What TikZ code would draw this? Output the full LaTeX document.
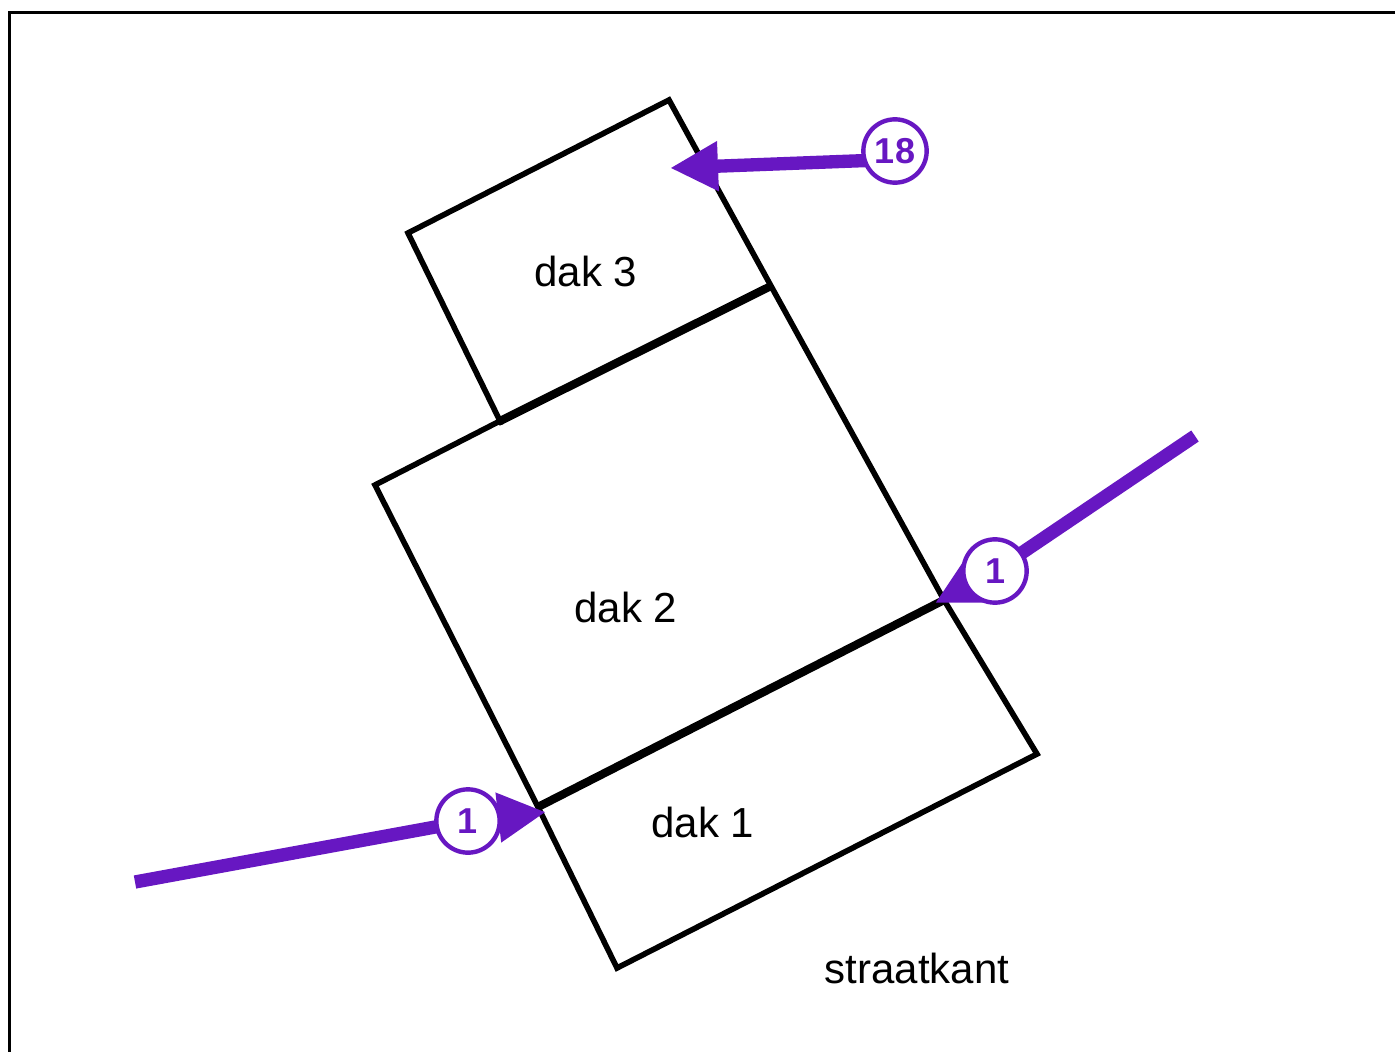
\documentclass[tikz,border=0pt]{standalone}
\usepackage{fontspec}
\setmainfont{Liberation Sans}
\usetikzlibrary{arrows.meta}
\definecolor{paars}{RGB}{103,23,194}

\tikzset{every picture/.style={line width=0.75pt}}
\tikzset{
  rand/.style={line width=4.2pt},
  nok/.style={line width=6.2pt},
  pijl/.style={draw=paars,line width=10pt,-{Triangle[length=36pt,width=35pt]}},
  lijn/.style={draw=paars,line width=10pt},
  badge/.style={circle,draw=paars,fill=white,line width=3.3pt,minimum size=47.5pt,inner sep=0pt,text=paars,font=\bfseries\fontsize{27}{30}\selectfont},
  label/.style={inner sep=0.75pt,font=\fontsize{31.5}{36}\selectfont}
}

\begin{document}
\begin{tikzpicture}[x=0.75pt,y=0.75pt,yscale=-1,xscale=1]
	\useasboundingbox (0,0) rectangle (1395,1052);
	%Frame
	\draw [line width=2pt] (9.5,1052) -- (9.5,12.5) -- (1395,12.5) ;

	%Corner points of the roof plan
	\coordinate (a) at (408,233);
	\coordinate (b) at (669,100);
	\coordinate (c) at (771,286);
	\coordinate (d) at (500,421);
	\coordinate (e) at (375,485);
	\coordinate (f) at (538,807);
	\coordinate (g) at (944,600);
	\coordinate (h) at (1037,754);
	\coordinate (i) at (617,968);

	%Shape: outline
	\draw [rand] (d) -- (a) -- (b) -- (c) -- (g) -- (h) -- (i) -- (f) -- (e) -- cycle ;
	%Ridge lines
	\draw [nok] (d) -- (c) ;
	\draw [nok] (f) -- (g) ;
	\fill (d) circle (4.5) ;

	%Arrow points
	\coordinate (p18) at (895,151);
	\coordinate (s18) at (880,160);
	\coordinate (t18) at (670,168);
	\coordinate (pr) at (995,571);
	\coordinate (vr) at (1195,436);
	\coordinate (tr) at (935,603);
	\coordinate (pl) at (468,821);
	\coordinate (vl) at (135,882);
	\coordinate (tl) at (546,812);

	%Arrows
	\draw [pijl] (s18) -- (t18) ;
	\draw [lijn] (vr) -- (pr) ;
	\draw [pijl] (pr) -- (tr) ;
	\draw [lijn] (vl) -- (pl) ;
	\draw [pijl] (pl) -- (tl) ;

	%Badges
	\node [badge] (n18) at (p18) {18};
	\node [badge] (nr) at (pr) {1};
	\node [badge] (nl) at (pl) {1};

	%Labels
	\node [label] (dak3) at (586,271) {dak 3};
	\node [label] (dak2) at (626,607) {dak 2};
	\node [label] (dak1) at (703,822) {dak 1};
	\node [label] (straat) at (917,968) {straatkant};

\end{tikzpicture}
\end{document}
